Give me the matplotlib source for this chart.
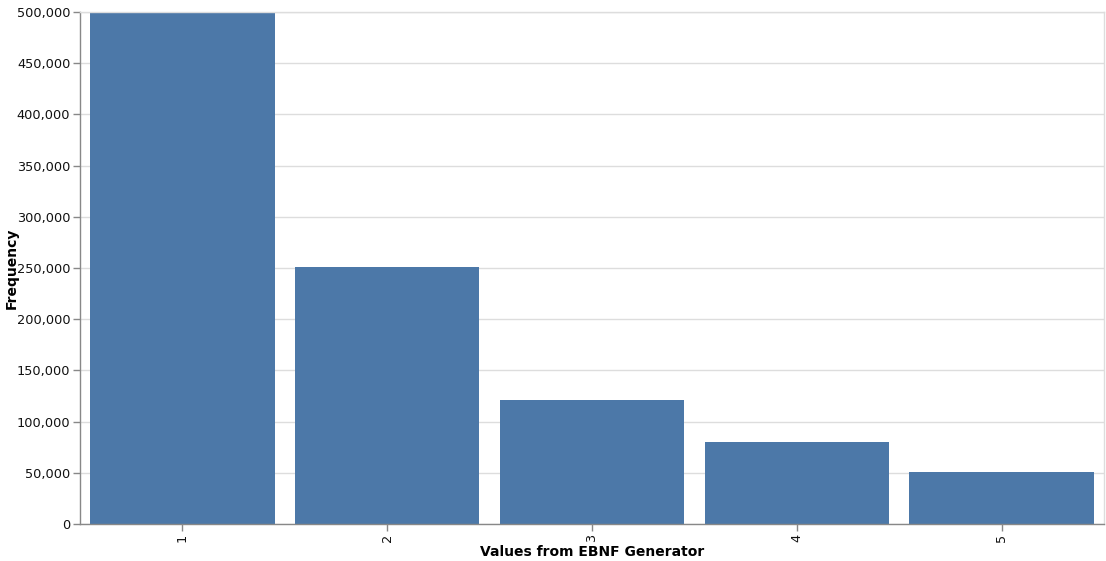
import matplotlib
matplotlib.use("Agg")
import matplotlib.pyplot as plt
from matplotlib.ticker import FuncFormatter, MultipleLocator

categories = ["1", "2", "3", "4", "5"]
frequency = [500000, 251000, 121000, 80000, 51000]

fig = plt.figure(figsize=(11.06, 5.61), dpi=100)
W, H = 1106, 561
left, right, top, bottom = 80, 1104, 12, 524
ax = fig.add_axes([left / W, 1 - bottom / H, (right - left) / W, (bottom - top) / H])

x = list(range(len(categories)))
ax.bar(x, frequency, width=0.9, color="#4c78a8", zorder=2)
ax.set_xlim(-0.5, len(categories) - 0.5)
ax.set_ylim(0, 500000)

ax.yaxis.set_major_locator(MultipleLocator(50000))
ax.yaxis.set_major_formatter(FuncFormatter(lambda v, p: f"{int(v):,}"))
ax.set_xticks(x)
ax.set_xticklabels(categories, rotation=90)

ax.grid(axis="y", color="#dddddd", linewidth=1, zorder=0)
ax.set_axisbelow(True)
for side in ("top", "right"):
    ax.spines[side].set_color("#dddddd")
    ax.spines[side].set_linewidth(1)
for side in ("left", "bottom"):
    ax.spines[side].set_color("#888888")
    ax.spines[side].set_linewidth(1)

ax.tick_params(axis="both", length=5, width=1, color="#888888",
               labelsize=9.3, labelcolor="#111111", pad=2)

ax.set_xlabel("Values from EBNF Generator", fontsize=10, fontweight="bold", labelpad=2)
ax.set_ylabel("Frequency", fontsize=10, fontweight="bold")
ax.yaxis.set_label_coords(-61 / (right - left), 0.5)

fig.savefig("out.png", dpi=100)
